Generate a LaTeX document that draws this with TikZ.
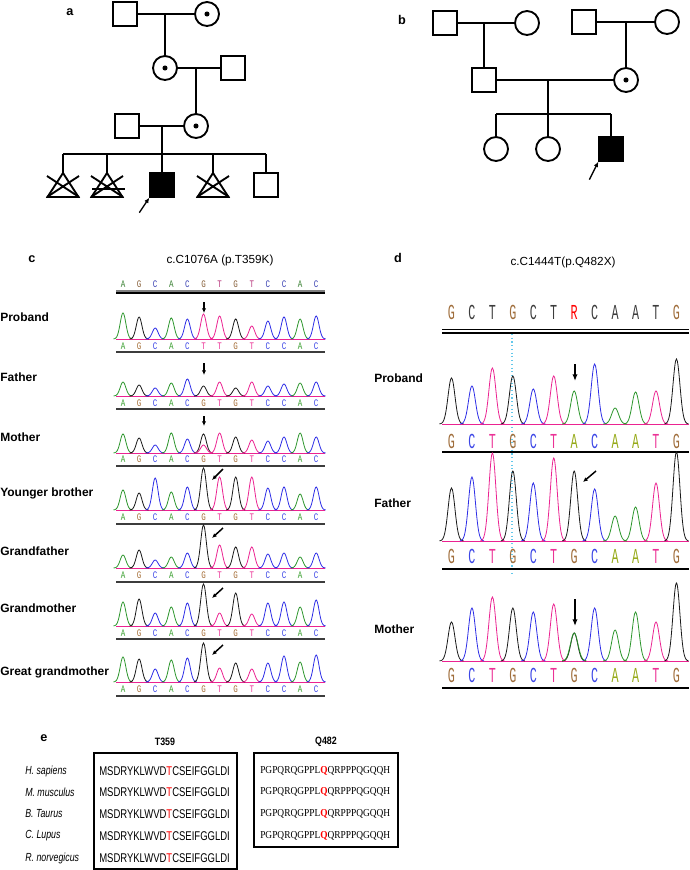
\documentclass[tikz,border=0pt]{standalone}
\usepackage{fontspec}
\setmainfont{Liberation Sans}
\newfontfamily\narrowsans[FakeStretch=0.83]{Liberation Sans}
\newfontfamily\condsans[FakeStretch=0.75]{Liberation Sans}
\newfontfamily\seqserif[FakeStretch=0.88]{Liberation Serif}
\newfontfamily\callfont[FakeStretch=0.75]{Liberation Mono}
\newfontfamily\tallcall[FakeStretch=0.55]{Liberation Mono}
\usepackage{tikz}
\tikzset{>=latex}
\usetikzlibrary{
    positioning, % relative placement
    arrows.meta  % arrow tips
}

% trace colours (peaks)
\definecolor{trA}{RGB}{45,150,45}
\definecolor{trC}{RGB}{45,45,230}
\definecolor{trG}{RGB}{25,25,25}
\definecolor{trT}{RGB}{235,35,145}
% base-call letters, panel c
\definecolor{ltA}{RGB}{60,160,50}
\definecolor{ltC}{RGB}{60,70,230}
\definecolor{ltG}{RGB}{165,110,55}
\definecolor{ltT}{RGB}{235,50,150}
% base-call letters, panel d
\definecolor{ldA}{RGB}{150,170,25}
\definecolor{ldC}{RGB}{60,70,230}
\definecolor{ldG}{RGB}{160,110,60}
\definecolor{ldT}{RGB}{235,50,150}
\definecolor{dk}{RGB}{60,60,60}
\definecolor{cy}{RGB}{100,200,235}

% knobs for the two chromatogram panels
\def\cx{123}    % first peak, panel c
\def\cdx{16.1}  % peak spacing, panel c
\def\dx{451.5}  % first peak, panel d
\def\ddx{20.45} % peak spacing, panel d

% one row of peaks: baseline y, list of base/height
\newcommand\ctrace[2]{%
  \draw[color=trT, line width=0.5pt] (116,#1) -- (325,#1);
  \foreach \bs/\ph [count=\i from 0] in {#2}
    \draw[trace, color=tr\bs] plot[domain=-9.5:9.5, samples=25, smooth]
      ({\cx+\cdx*\i+\x}, {#1-\ph*exp(0-\x*\x/16)});
}
\newcommand\cletters[3]{%
  \foreach \bs [count=\i from 0] in {#3}
    \node[cbase, text=lt\bs] (#1-\i) at ({\cx+\cdx*\i}, #2) {\bs};
}
\newcommand\dtrace[2]{%
  \draw[color=trT, line width=0.5pt] (442,#1) -- (689,#1);
  \foreach \bs/\ph [count=\i from 0] in {#2}
    \draw[trace, color=tr\bs] plot[domain=-12:12, samples=29, smooth]
      ({\dx+\ddx*\i+\x}, {#1-\ph*exp(0-\x*\x/24)});
}
\newcommand\dletters[3]{%
  \foreach \bs [count=\i from 0] in {#3}
    \node[dbase, text=ld\bs] (#1-\i) at ({\dx+\ddx*\i}, #2) {\bs};
}
% lost pregnancy: triangle with a cross, apex at #1
\newcommand\loss[1]{%
  \begin{scope}[shift={(#1)}]
    \draw[ped] (0,0) -- (-15.5,24) -- (15.5,24) -- cycle;
    \draw[ped] (-16,3) -- (16,24) (16,3) -- (-16,24);
  \end{scope}
}

\begin{document}
\begin{tikzpicture}[x=0.75pt, y=-0.75pt,
    ped/.style={line width=1.4pt},
    male/.style={draw, line width=1.4pt, minimum size=17.6pt, inner sep=0},
    female/.style={male, circle, minimum size=18pt},
    carrier/.style={female, path picture={\fill (path picture bounding box.center) circle (1.9pt);}},
    affected/.style={male, fill=black},
    ptr/.style={-{Latex[length=4pt,width=3.5pt]}, line width=1pt},
    panel/.style={inner sep=0, font=\bfseries\fontsize{9.5}{11}\selectfont},
    title/.style={inner sep=0, font=\fontsize{8.8}{10}\selectfont},
    who/.style={anchor=west, inner sep=0, font=\bfseries\fontsize{9}{10}\selectfont},
    cbase/.style={inner sep=0, font=\callfont\fontsize{7.5}{8}\selectfont},
    dbase/.style={inner sep=0, font=\tallcall\fontsize{16}{17}\selectfont},
    trace/.style={line width=0.6pt},
    cline/.style={line width=1.3pt, color=dk},
    dline/.style={line width=2pt},
    mut/.style={-{Latex[length=3.5pt,width=3.2pt]}, line width=1.1pt},
    mutd/.style={-{Latex[length=5pt,width=4pt]}, line width=1.3pt},
    head/.style={inner sep=0, font=\narrowsans\bfseries\fontsize{8}{9}\selectfont},
    species/.style={anchor=west, inner sep=0, font=\condsans\itshape\fontsize{8.8}{10}\selectfont},
    seqA/.style={anchor=west, inner sep=0, font=\condsans\fontsize{9.5}{10}\selectfont},
    seqB/.style={anchor=west, inner sep=0, font=\seqserif\fontsize{8}{9}\selectfont},
    seqbox/.style={line width=1.5pt}]
  \useasboundingbox (0,0) rectangle (689,870);

  % ===================== a: pedigree =====================
  \node[panel] (la) at (70,12) {a};
  \node[male] (aGGF) at (125,14) {};
  \node[carrier] (aGGM) at (207,14) {};
  \draw[ped] (aGGF) -- (aGGM);
  \node[carrier] (aGM) at (165,68) {};
  \node[male] (aGF) at (233,68) {};
  \draw[ped] (aGM) -- (aGF);
  \draw[ped] (aGM) -- (aGM |- aGGF);
  \node[male] (aFa) at (127,126) {};
  \node[carrier] (aMo) at (196,126) {};
  \draw[ped] (aFa) -- (aMo);
  \draw[ped] (aMo) -- (aMo |- aGF);
  % sibship
  \coordinate (aSib) at (162,154);
  \coordinate (aT1) at (63,173);
  \coordinate (aT2) at (107,173);
  \coordinate (aT4) at (213,173);
  \node[affected] (aP) at (162,185) {};
  \node[male] (aB) at (266,185) {};
  \draw[ped] (aSib |- aFa) -- (aSib);
  \draw[ped] (aSib -| aT1) -- (aSib -| aB);
  \foreach \k in {aT1,aT2,aP,aT4,aB}
    \draw[ped] (aSib -| \k) -- (\k);
  \loss{aT1}
  \loss{aT2}
  \loss{aT4}
  \draw[ped] ([shift={(-15,16)}]aT2) -- ++(33,0);
  \draw[ptr] ([shift={(-10,15)}]aP.south west) -- (aP.south west);

  % ===================== b: pedigree =====================
  \node[panel] (lb) at (402,20) {b};
  \node[male] (bPGF) at (445,23) {};
  \node[female] (bPGM) at (527,23) {};
  \draw[ped] (bPGF) -- (bPGM);
  \node[male] (bMGF) at (584,22) {};
  \node[female] (bMGM) at (667,22) {};
  \draw[ped] (bMGF) -- (bMGM);
  \node[male] (bFa) at (484,80) {};
  \node[carrier] (bMo) at (626,80) {};
  \draw[ped] (bFa) -- (bMo);
  \draw[ped] (bFa) -- (bFa |- bPGF);
  \draw[ped] (bMo) -- (bMo |- bMGF);
  \coordinate (bSib) at (548,114);
  \node[female] (bS1) at (496,149) {};
  \node[female] (bS2) at (548,149) {};
  \node[affected] (bP) at (611,149) {};
  \draw[ped] (bSib |- bFa) -- (bSib);
  \draw[ped] (bSib -| bS1) -- (bSib -| bP);
  \foreach \k in {bS1,bS2,bP}
    \draw[ped] (bSib -| \k) -- (\k);
  \draw[ptr] ([shift={(-9,18)}]bP.south west) -- (bP.south west);

  % ===================== c: c.C1076A =====================
  \node[panel] (lc) at (32,259) {c};
  \node[title] (tc) at (220,260) {c.C1076A (p.T359K)};
  \foreach \bs [count=\i from 0] in {A,G,C,A,C,G,T,G,T,C,C,A,C}
    \node[cbase, text=lt\bs!70!dk] (cRef-\i) at ({\cx+\cdx*\i},284) {\bs};
  \draw[gray, line width=1pt] (116,291) -- (325,291);
  \draw[line width=1.2pt] (116,293) -- (325,293);

  % proband
  \node[who] (cPro) at (0,317) {Proband};
  \draw[mut] (204,302) -- (204,313);
  \ctrace{339}{A/26,G/22,C/11,A/21,C/20,T/25,T/23,G/20,T/13,C/18,C/22,A/20,C/23}
  \cletters{cProS}{346.5}{A,G,C,A,C,T,T,G,T,C,C,A,C}
  \draw[cline] (116,352) -- (325,352);

  % father
  \node[who] (cFa) at (0,377) {Father};
  \draw[mut] (204,363) -- (204,375);
  \ctrace{396}{A/14,G/11,C/8,A/13,C/17,G/10,T/14,G/8,T/14,C/10,C/12,A/13,C/14}
  \cletters{cFaS}{403}{A,G,C,A,C,G,T,G,T,C,C,A,C}
  \draw[cline] (116,409) -- (325,409);

  % mother
  \node[who] (cMo) at (0,437) {Mother};
  \draw[mut] (204,416) -- (204,426);
  \ctrace{453}{A/19,G/15,C/8,A/20,C/14,G/19,T/20,G/16,T/13,C/12,C/16,A/20,C/16}
  \draw[trace, color=trT] plot[domain=-9.5:9.5, samples=25, smooth]
    ({\cx+\cdx*5+\x}, {453-8*exp(0-\x*\x/16)});
  \cletters{cMoS}{459.5}{A,G,C,A,C,G,T,G,T,C,C,A,C}
  \draw[cline] (116,466) -- (325,466);

  % younger brother
  \node[who] (cBr) at (0,493) {Younger brother};
  \draw[mut] (223,469) -- (212,480);
  \ctrace{510}{A/20,G/17,C/32,A/18,C/23,G/42,T/33,G/33,T/33,C/22,C/23,A/16,C/23}
  \cletters{cBrS}{517.5}{A,G,C,A,C,G,T,G,T,C,C,A,C}
  \draw[cline] (116,524) -- (325,524);

  % grandfather
  \node[who] (cGF) at (0,551) {Grandfather};
  \draw[mut] (223,528) -- (212,538);
  \ctrace{568}{A/13,G/18,C/8,A/11,C/15,G/43,T/23,G/21,T/21,C/14,C/15,A/11,C/15}
  \cletters{cGFS}{575.5}{A,G,C,A,C,G,T,G,T,C,C,A,C}
  \draw[cline] (116,582) -- (325,582);

  % grandmother
  \node[who] (cGM) at (0,608) {Grandmother};
  \draw[mut] (223,588) -- (212,598);
  \ctrace{626}{A/24,G/27,C/13,A/19,C/23,G/42,T/13,G/33,T/12,C/23,C/24,A/19,C/26}
  \cletters{cGMS}{633}{A,G,C,A,C,G,T,G,T,C,C,A,C}
  \draw[cline] (116,639) -- (325,639);

  % great grandmother
  \node[who] (cGGM) at (0,672) {Great grandmother};
  \draw[mut] (223,645) -- (212,655);
  \ctrace{682}{A/25,G/23,C/13,A/22,C/24,G/39,T/14,G/19,T/13,C/19,C/26,A/20,C/27}
  \cletters{cGGMS}{689.5}{A,G,C,A,C,G,T,G,T,C,C,A,C}
  \draw[cline] (116,696) -- (325,696);

  % ===================== d: c.C1444T =====================
  \node[panel] (ld) at (398,258) {d};
  \node[title] (td) at (563,262) {c.C1444T(p.Q482X)};
  \foreach \bs/\cl [count=\i from 0] in {G/ldG,C/dk,T/dk,G/ldG,C/dk,T/dk,R/red,C/dk,A/dk,A/dk,T/dk,G/ldG}
    \node[dbase, text=\cl] (dRef-\i) at ({\dx+\ddx*\i},312) {\bs};
  \draw[line width=1.2pt] (442,329.5) -- (689,329.5);
  \draw[line width=1.2pt] (442,333) -- (689,333);
  \draw[color=cy, dotted, line width=0.8pt] (512,334) -- (512,576);

  % proband
  \node[who] (dPro) at (374,378) {Proband};
  \draw[mutd] (575,364) -- (575,381);
  \dtrace{424}{G/46,C/38,T/56,G/48,C/35,T/48,A/33,C/60,A/16,A/32,T/33,G/65}
  \dletters{dProS}{441}{G,C,T,G,C,T,A,C,A,A,T,G}
  \draw[dline] (442,452) -- (689,452);

  % father
  \node[who] (dFa) at (374,503) {Father};
  \draw[mut] (596,471) -- (583,482);
  \dtrace{541}{G/53,C/64,T/88,G/70,C/58,T/83,G/70,C/52,A/25,A/34,T/58,G/89}
  \dletters{dFaS}{556}{G,C,T,G,C,T,G,C,A,A,T,G}
  \draw[dline] (442,569) -- (689,569);

  % mother
  \node[who] (dMo) at (374,629) {Mother};
  \draw[mutd] (575,599) -- (575,626);
  \dtrace{661}{G/39,C/53,T/64,G/53,C/49,T/57,G/28,C/53,A/31,A/49,T/39,G/78}
  \draw[trace, color=trA] plot[domain=-12:12, samples=29, smooth]
    ({\dx+\ddx*6+\x}, {661-28*exp(0-\x*\x/28)});
  \dletters{dMoS}{675}{G,C,T,G,C,T,G,C,A,A,T,G}
  \draw[dline] (442,688) -- (689,688);

  % ===================== e: conservation =====================
  \node[panel] (le) at (44,738) {e};
  \node[head] (hT) at (165,742) {T359};
  \node[head] (hQ) at (326,742) {Q482};
  \draw[seqbox] (94,753) rectangle (237,869);
  \draw[seqbox] (254,753) rectangle (398,847);
  \foreach \sp/\yy [count=\i] in {H. sapiens/771, M. musculus/792, B. Taurus/814, C. Lupus/836, R. norvegicus/858}
    \node[species] (sp-\i) at (25,\yy) {\sp};
  \foreach \yy [count=\i] in {771,792,814,836,858}
    \node[seqA] (sA-\i) at (99,\yy) {MSDRYKLWVD\textcolor{red}{T}CSEIFGGLDI};
  \foreach \yy [count=\i] in {771,792,814,836}
    \node[seqB] (sB-\i) at (260,\yy) {PGPQRQGPPL\textcolor{red}{\textbf{Q}}QRPPPQGQQH};
\end{tikzpicture}
\end{document}
